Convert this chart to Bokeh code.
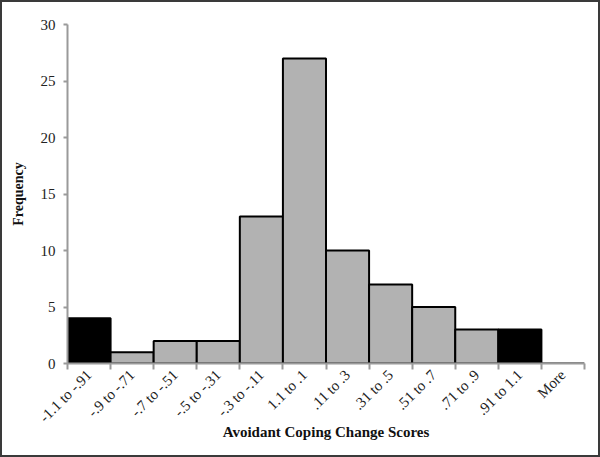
from math import pi
from bokeh.plotting import figure
from bokeh.models import ColumnDataSource, FixedTicker, Range1d
from bokeh.embed import file_html
from bokeh.resources import INLINE

categories = ["-1.1 to -.91", "-.9 to -.71", "-.7 to -.51", "-.5 to -.31", "-.3 to -.11",
              "1.1 to .1", ".11 to .3", ".31 to .5", ".51 to .7", ".71 to .9", ".91 to 1.1", "More"]
frequency = [4, 1, 2, 2, 13, 27, 10, 7, 5, 3, 3, 0]
bar_colors = ["#000000", "#b2b2b2", "#b2b2b2", "#b2b2b2", "#b2b2b2", "#b2b2b2",
              "#b2b2b2", "#b2b2b2", "#b2b2b2", "#b2b2b2", "#000000", "#b2b2b2"]
y_ticks = [0, 5, 10, 15, 20, 25, 30]

n = len(categories)
centers = [i + 0.5 for i in range(n)]
src = ColumnDataSource(dict(x=centers, top=frequency, color=bar_colors))

p = figure(width=600, height=457, output_backend="svg", toolbar_location=None,
           x_range=Range1d(0, n), y_range=Range1d(0, 30),
           min_border_left=65, min_border_right=18, min_border_top=22, min_border_bottom=96)
p.styles = {"border": "2px solid #3a3a3a", "box-sizing": "border-box"}

p.vbar(x="x", top="top", width=1.0, bottom=0, source=src, fill_color="color",
       line_color="#000000", line_width=2)

p.xgrid.visible = False
p.ygrid.visible = False
p.outline_line_color = None
p.background_fill_color = "white"
p.border_fill_color = "white"

font = "Liberation Serif"

xa = p.xaxis[0]
xa.ticker = FixedTicker(ticks=centers, minor_ticks=list(range(n + 1)))
xa.major_label_overrides = {c: lab for c, lab in zip(centers, categories)}
xa.major_label_orientation = pi / 4
xa.major_tick_line_color = None
xa.minor_tick_line_color = "#9a9a9a"
xa.minor_tick_line_width = 2
xa.minor_tick_out = 6
xa.minor_tick_in = 0
xa.axis_line_color = "#9a9a9a"
xa.axis_line_width = 2
xa.major_label_text_font = font
xa.major_label_text_font_size = "15px"
xa.major_label_text_color = "#222222"
xa.major_label_standoff = 3
xa.axis_label = "Avoidant Coping Change Scores"
xa.axis_label_text_font = font
xa.axis_label_text_font_size = "15px"
xa.axis_label_text_font_style = "bold"
xa.axis_label_text_color = "#111111"
xa.axis_label_standoff = -10

ya = p.yaxis[0]
ya.ticker = FixedTicker(ticks=y_ticks, minor_ticks=[])
ya.major_tick_line_color = "#9a9a9a"
ya.major_tick_line_width = 2
ya.major_tick_out = 4
ya.major_tick_in = 0
ya.axis_line_color = "#9a9a9a"
ya.axis_line_width = 2
ya.major_label_text_font = font
ya.major_label_text_font_size = "15px"
ya.major_label_text_color = "#222222"
ya.major_label_standoff = 8
ya.axis_label = "Frequency"
ya.axis_label_text_font = font
ya.axis_label_text_font_size = "14px"
ya.axis_label_text_font_style = "bold"
ya.axis_label_text_color = "#111111"
ya.axis_label_standoff = 12

open("out.html", "w").write(file_html(p, INLINE))
